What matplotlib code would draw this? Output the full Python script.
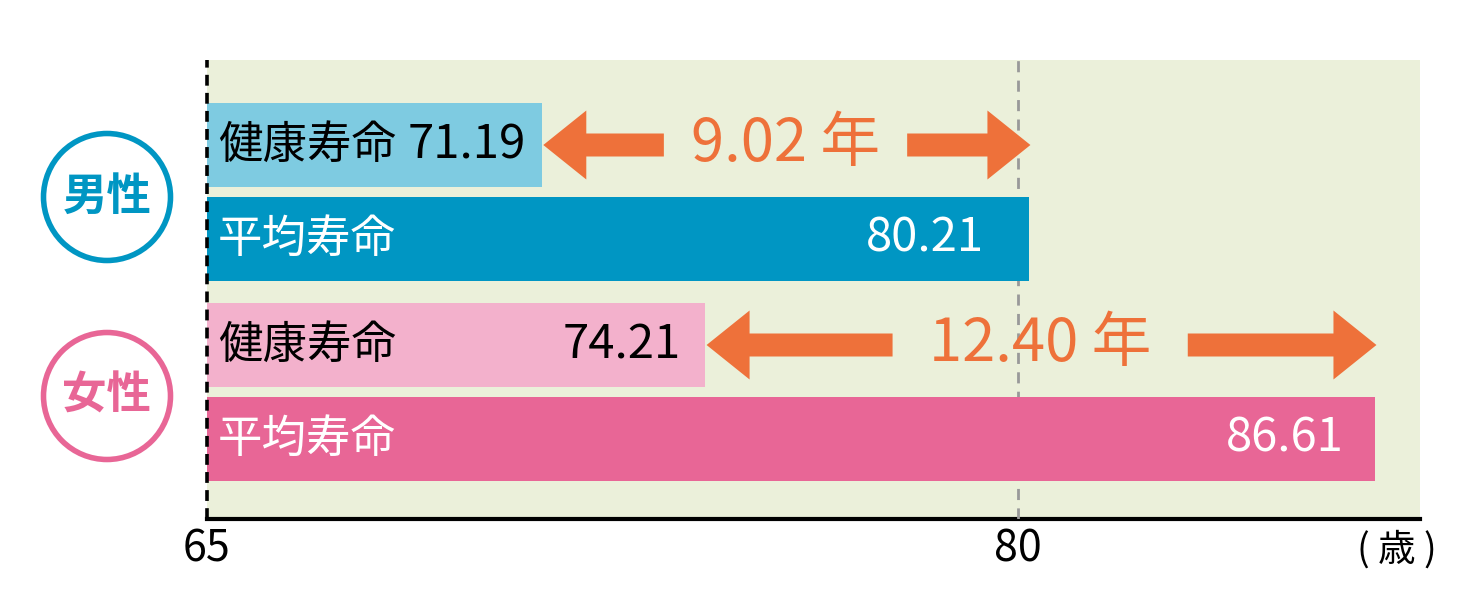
import matplotlib.pyplot as plt
from matplotlib.patches import FancyArrow, Circle

plt.rcParams['font.family'] = ['Noto Sans CJK JP', 'DejaVu Sans']

# data
groups = ['男性', '女性']
healthy = [71.19, 74.21]
average = [80.21, 86.61]
gap_labels = ['9.02 年', '12.40 年']
bar_names = ['健康寿命', '平均寿命']
x_ticks = [65, 80]
unit_label = '( 歳 )'

# colours
c_healthy = ['#7ecbe1', '#f3b1cc']
c_average = ['#0096c3', '#e86696']
c_group = ['#0096c3', '#e86696']
c_bg = '#ebf0da'
c_arrow = '#ee713a'

W, H = 1482, 607
fig = plt.figure(figsize=(W / 100, H / 100), dpi=100)

# axes in pixel layout: x from 207 to 1420, y from 60 to 519
x0, x1, y0, y1 = 207, 1420, 60, 519
ax = fig.add_axes([x0 / W, (H - y1) / H, (x1 - x0) / W, (y1 - y0) / H])
px_per_unit = (1018 - 207) / 15
xmax = 65 + (x1 - x0) / px_per_unit
ax.set_xlim(65, xmax)
ax.set_ylim(y1 - y0, 0)
ax.set_facecolor(c_bg)
for s in ['top', 'right', 'left']:
    ax.spines[s].set_visible(False)
ax.spines['bottom'].set_linewidth(3)
ax.set_yticks([])
ax.set_xticks([])

# reference lines
ax.axvline(80, color='#999999', lw=2, ls=(0, (4, 3)), zorder=3)
ax.axvline(65, color='black', lw=2.6, ls=(0, (3, 2)), zorder=9, clip_on=False)

bar_h = 84
group_c = [131.75, 331.75]
off = 46.75
pad_h = [16, 24]   # px between bar end and number
pad_a = [45, 32]

for i in range(2):
    yh = group_c[i] - off
    ya = group_c[i] + off
    ax.barh(yh, healthy[i] - 65, left=65, height=bar_h, color=c_healthy[i], zorder=2)
    ax.barh(ya, average[i] - 65, left=65, height=bar_h, color=c_average[i], zorder=5)

    ax.text(65.2, yh, bar_names[0], va='center', ha='left', fontsize=32, color='black', zorder=6)
    ax.text(healthy[i] - pad_h[i] / px_per_unit, yh, f'{healthy[i]:.2f}', va='center',
            ha='right', fontsize=34, color='black', zorder=6)
    ax.text(65.2, ya, bar_names[1], va='center', ha='left', fontsize=32, color='white', zorder=6)
    ax.text(average[i] - pad_a[i] / px_per_unit, ya, f'{average[i]:.2f}', va='center',
            ha='right', fontsize=34, color='white', zorder=6)

    # double arrow with label in the gap
    mid = (healthy[i] + average[i]) / 2
    half_gap = [2.25, 2.73][i]
    head_len = 43 / px_per_unit
    left_tip = healthy[i] + 0.03
    right_tip = average[i] + 0.02
    ax.add_patch(FancyArrow(mid - half_gap, yh, left_tip - (mid - half_gap), 0, width=23,
                            head_width=69, head_length=head_len, length_includes_head=True,
                            color=c_arrow, lw=0, zorder=7))
    ax.add_patch(FancyArrow(mid + half_gap, yh, right_tip - (mid + half_gap), 0, width=23,
                            head_width=69, head_length=head_len, length_includes_head=True,
                            color=c_arrow, lw=0, zorder=7))
    ax.text(mid, yh, gap_labels[i], va='center', ha='center', fontsize=43,
            color=c_arrow, zorder=7)

# group circles
circle_y = [197, 396]
for i, g in enumerate(groups):
    circ = Circle((107 / 100, (H - circle_y[i]) / 100), 0.635,
                  transform=fig.dpi_scale_trans, fill=False,
                  edgecolor=c_group[i], lw=4)
    fig.patches.append(circ)
    fig.text(107 / W, 1 - circle_y[i] / H, g, ha='center', va='center', fontsize=32,
             fontweight='bold', color=c_group[i])

# x tick labels
for t in x_ticks:
    ax.text(t, (y1 - y0) + 31, str(t), ha='center', va='center', fontsize=31,
            clip_on=False)
ax.text(65 + (1397 - x0) / px_per_unit, (y1 - y0) + 31, unit_label, ha='center',
        va='center', fontsize=27, clip_on=False)

fig.savefig('out.png', dpi=100, facecolor='white')
